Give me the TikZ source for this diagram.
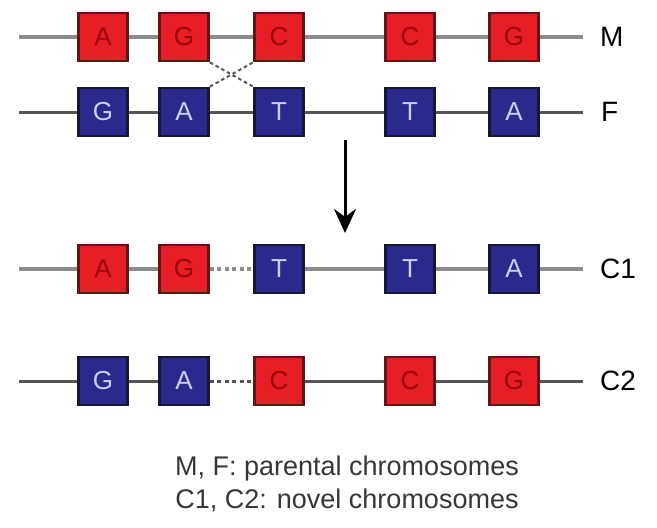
\documentclass[tikz,border=0pt]{standalone}
\usepackage{fontspec}
\setmainfont{Liberation Sans}
\usetikzlibrary{arrows.meta,positioning}
\definecolor{mred}{RGB}{232,30,38}
\definecolor{mredline}{RGB}{100,20,24}
\definecolor{mredtext}{RGB}{150,8,14}
\definecolor{fblue}{RGB}{42,42,140}
\definecolor{fblueline}{RGB}{22,22,58}
\definecolor{fbluetext}{RGB}{205,205,242}
\definecolor{chrlight}{RGB}{140,140,140}
\definecolor{chrdark}{RGB}{85,85,85}
\definecolor{notegray}{RGB}{55,55,55}
\tikzset{gene/.style={draw,line width=2.8pt,minimum width=49pt,minimum height=48pt,inner sep=0pt,
    font=\fontsize{26}{28}\selectfont},
  mgene/.style={gene,fill=mred,draw=mredline,text=mredtext},
  fgene/.style={gene,fill=fblue,draw=fblueline,text=fbluetext},
  chrm/.style={chrlight,line width=4pt},
  chrf/.style={chrdark,line width=3pt},
  gap/.style={dash pattern=on 4pt off 3.5pt},
  cross/.style={chrdark,line width=2pt,dash pattern=on 3.5pt off 3pt},
  lbl/.style={anchor=west,inner sep=0pt,font=\fontsize{28}{30}\selectfont},
  arr/.style={-{Stealth[length=24pt,width=22pt]},line width=3pt}}

\begin{document}
\begin{tikzpicture}[x=1pt,y=-1pt]
\useasboundingbox (0,0) rectangle (657,528);
% chromosome ends
\foreach \r/\y in {m/37,f/112,ca/269,cb/381}{
  \coordinate (\r0) at (19,\y);
  \coordinate (\r6) at (583,\y);
}
% parental chromosomes
\foreach \i/\x/\t in {1/103/A,2/184/G,3/279/C,4/410/C,5/514/G}
  \node[mgene] (m\i) at (\x,37) {\t};
\foreach \i/\x/\t in {1/103/G,2/184/A,3/279/T,4/410/T,5/514/A}
  \node[fgene] (f\i) at (\x,112) {\t};
% novel chromosomes
\foreach \i/\x/\t/\s in {1/103/A/mgene,2/184/G/mgene,3/279/T/fgene,4/410/T/fgene,5/514/A/fgene}
  \node[\s] (ca\i) at (\x,269) {\t};
\foreach \i/\x/\t/\s in {1/103/G/fgene,2/184/A/fgene,3/279/C/mgene,4/410/C/mgene,5/514/G/mgene}
  \node[\s] (cb\i) at (\x,381) {\t};

\draw[chrm] (m0) -- (m1) -- (m2) -- (m3) -- (m4) -- (m5) -- (m6);
\draw[chrf] (f0) -- (f1) -- (f2) -- (f3) -- (f4) -- (f5) -- (f6);
\draw[chrm] (ca0) -- (ca1) -- (ca2) (ca3) -- (ca4) -- (ca5) -- (ca6);
\draw[chrm,gap] (ca2) -- (ca3);
\draw[chrf] (cb0) -- (cb1) -- (cb2) (cb3) -- (cb4) -- (cb5) -- (cb6);
\draw[chrf,gap] (cb2) -- (cb3);

% crossover
\draw[cross] (m2.south east) -- (f3.north west);
\draw[cross] (f2.north east) -- (m3.south west);

\node[lbl] (lm) at (600,37) {M};
\node[lbl] (lf) at (601,112) {F};
\node[lbl] (lca) at (600,269) {C1};
\node[lbl] (lcb) at (600,381) {C2};

\coordinate (from) at (345,140);
\coordinate (to) at (345,233);
\draw[arr] (from) -- (to);

\node[align=center,text=notegray,font=\fontsize{27}{33}\selectfont] (note) at (347,484)
  {M, F: parental chromosomes\\C1, C2: novel chromosomes};
\end{tikzpicture}
\end{document}
